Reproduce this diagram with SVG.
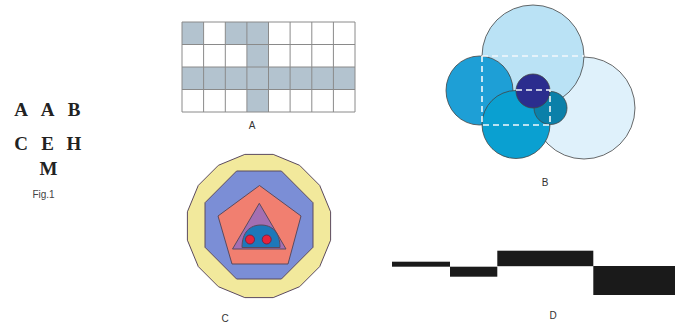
<svg xmlns="http://www.w3.org/2000/svg" width="675" height="324" viewBox="0 0 675 324">
<style>
.lbl{font-family:"Liberation Sans",Arial,sans-serif;font-size:10px;fill:#333;text-anchor:middle}
.big{font-family:"Liberation Serif","Times New Roman",serif;font-weight:bold;font-size:19px;fill:#222;text-anchor:middle}
.sh{fill:#b3c3cf}
.gl{stroke:#8a8a8a;stroke-width:1;fill:none}
.circ{stroke:#444;stroke-width:0.8}
.dash{stroke:#f4f8fb;stroke-width:1.6;stroke-dasharray:6 4;fill:none}
.cs{stroke:#5b4a5e;stroke-width:1}
.bar{fill:#1a1a1a}
</style>
<rect width="675" height="324" fill="#fff"/>
<g id="letters">
<text class="big" x="21" y="116">A</text>
<text class="big" x="47.5" y="116">A</text>
<text class="big" x="74" y="116">B</text>
<text class="big" x="21" y="150">C</text>
<text class="big" x="47.5" y="150">E</text>
<text class="big" x="74" y="150">H</text>
<text class="big" x="48.5" y="175">M</text>
<text class="lbl" x="43.5" y="198" style="fill:#444">Fig.1</text>
</g>
<g id="figA">
<rect class="sh" x="182" y="22" width="21.6" height="22.5"/>
<rect class="sh" x="225.3" y="22" width="43.3" height="22.5"/>
<rect class="sh" x="247" y="44.5" width="21.6" height="22.5"/>
<rect class="sh" x="182" y="67" width="173" height="22.5"/>
<rect class="sh" x="247" y="89.5" width="21.6" height="22.5"/>
<path class="gl" d="M182,22H355V112H182Z M182,44.5H355 M182,67H355 M182,89.5H355 M203.6,22V112 M225.3,22V112 M246.9,22V112 M268.5,22V112 M290.1,22V112 M311.8,22V112 M333.4,22V112"/>
<text class="lbl" x="252" y="129">A</text>
</g>
<g id="figB">
<circle class="circ" cx="584" cy="108" r="51" fill="#dff1fb"/>
<circle class="circ" cx="533" cy="56" r="51" fill="#bae2f5"/>
<ellipse class="circ" cx="479.5" cy="90.5" rx="33.5" ry="34.5" fill="#1e9fd6"/>
<circle class="circ" cx="516" cy="124.5" r="34" fill="#0aa0d1"/>
<circle class="circ" cx="550.5" cy="108" r="16.5" fill="#0b80a9"/>
<circle class="circ" cx="533" cy="91" r="17" fill="#2b2d8e"/>
<path class="dash" d="M482,56H584 M482,56V125H550V90H516"/>
<text class="lbl" x="545" y="186">B</text>
</g>
<g id="figC">
<polygon class="cs" fill="#f2e99c" stroke="#6b6b5b" points="273.2,154.4 299.6,165.3 319.7,185.4 330.6,211.8 330.6,240.2 319.7,266.6 299.6,286.7 273.2,297.6 244.8,297.6 218.4,286.7 198.3,266.6 187.4,240.2 187.4,211.8 198.3,185.4 218.4,165.3 244.8,154.4"/>
<polygon class="cs" fill="#7b8ed6" points="281.4,171 313,202.7 313,247.3 281.4,279 236.6,279 205,247.3 205,202.7 236.6,171"/>
<polygon class="cs" fill="#f17f70" points="259.5,185.5 301,216 288,264 232,264 218,216"/>
<polygon class="cs" fill="#a46fb2" points="259.3,203.3 286,249 232.5,249"/>
<path class="cs" fill="#1d78ba" d="M242,247.5C242,232 250,225 261,225C272,225 280,232 280,247.5Z"/>
<circle cx="250" cy="239.5" r="4.5" fill="#e8233a" stroke="#6a2040" stroke-width="0.8"/>
<circle cx="266.7" cy="239.5" r="4.5" fill="#e8233a" stroke="#6a2040" stroke-width="0.8"/>
<text class="lbl" x="225" y="322">C</text>
</g>
<g id="figD">
<rect class="bar" x="392" y="261.7" width="58" height="5"/>
<rect class="bar" x="450" y="266.7" width="47.3" height="10"/>
<rect class="bar" x="497.3" y="250.7" width="96" height="15.5"/>
<rect class="bar" x="593.3" y="266" width="81.7" height="29"/>
<text class="lbl" x="553" y="319">D</text>
</g>
</svg>
